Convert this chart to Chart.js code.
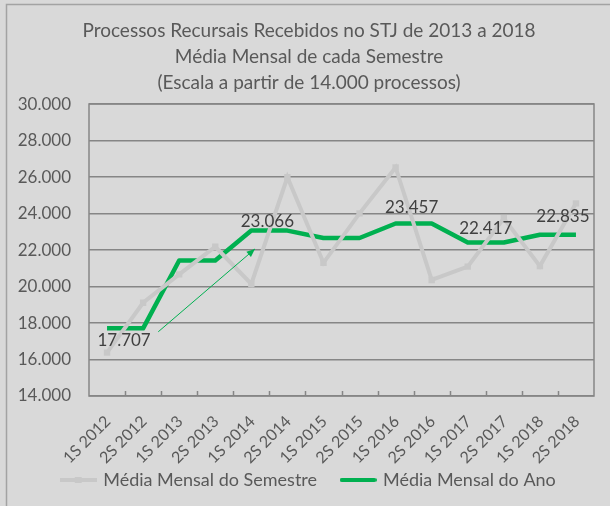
<!DOCTYPE html>
<html>
<head>
<meta charset="utf-8">
<script src="https://cdn.jsdelivr.net/npm/chart.js@4"></script>
<style>
  html, body { margin: 0; padding: 0; background: #d9d9d9; }
  canvas { display: block; }
</style>
</head>
<body>
<canvas id="lineChart" width="610" height="506"></canvas>
<script>
// dados
var semestres = ['1S 2012', '2S 2012', '1S 2013', '2S 2013', '1S 2014', '2S 2014', '1S 2015',
                 '2S 2015', '1S 2016', '2S 2016', '1S 2017', '2S 2017', '1S 2018', '2S 2018'];
var mediaSemestre = [16380, 19110, 20670, 22180, 20140, 25990, 21300,
                     24010, 26530, 20360, 21090, 23740, 21120, 24560];
var mediaAno = [17707, 17707, 21424, 21424, 23066, 23066, 22660,
                22660, 23457, 23457, 22417, 22417, 22835, 22835];
// anos com rótulo (índice do 1º semestre)
var anosRotulados = [0, 4, 8, 10, 12];
var yTicks = [14000, 16000, 18000, 20000, 22000, 24000, 26000, 28000, 30000];

var fonte = 'Lato, "Noto Sans", sans-serif';
var cinza = '#c8c8c8';
var verde = '#00b050';

// deslocamento de cada rótulo em px (dx, dy)
var deslocRotulo = [[-1, 12], [-2, -9], [-2, -16], [0, -14], [5, -18]];

function fmt(v) {
    return String(Math.round(v)).replace(/\B(?=(\d{3})+(?!\d))/g, '.');
}

// marcadores da legenda
function marcador(cor, comQuadrado) {
    var cv = document.createElement('canvas');
    cv.width = 37; cv.height = 8;
    var c = cv.getContext('2d');
    c.strokeStyle = cor;
    c.lineWidth = 4;
    c.lineCap = comQuadrado ? 'butt' : 'round';
    c.beginPath();
    c.moveTo(comQuadrado ? 0 : 2, 4);
    c.lineTo(comQuadrado ? 37 : 35, 4);
    c.stroke();
    if (comQuadrado) {
        c.fillStyle = cor;
        c.fillRect(15, 1, 7, 6);
    }
    return cv;
}
var marcadores = [marcador(cinza, true), marcador(verde, false)];

var extras = {
    id: 'extras',
    beforeDraw: function(chart) {
        var c = chart.ctx;
        c.save();
        c.fillStyle = '#d9d9d9';
        c.fillRect(0, 0, chart.width, chart.height);
        c.strokeStyle = '#a3a3a3';
        c.lineWidth = 1.5;
        c.beginPath();
        c.moveTo(6.5, chart.height);
        c.lineTo(6.5, 4.5);
        c.lineTo(chart.width, 4.5);
        c.stroke();
        c.restore();
    },
    beforeDatasetsDraw: function(chart) {
        var c = chart.ctx, a = chart.chartArea, x = chart.scales.x;
        c.save();
        c.strokeStyle = '#868686';
        c.lineWidth = 1.5;
        c.strokeRect(Math.round(a.left), Math.round(a.top),
                     Math.round(a.right - a.left), Math.round(a.bottom - a.top));
        c.beginPath();
        for (var i = 0; i < semestres.length - 1; i++) {
            var px = Math.round(x.getPixelForValue(i + 0.5)) + 0.5;
            c.moveTo(px, a.bottom);
            c.lineTo(px, a.bottom - 5);
        }
        c.stroke();
        c.restore();
    },
    afterDatasetsDraw: function(chart) {
        var c = chart.ctx, x = chart.scales.x, y = chart.scales.y;
        c.save();
        // seta verde
        var x0 = x.getPixelForValue(1.42), y0 = y.getPixelForValue(17520);
        var x1 = x.getPixelForValue(4.1), y1 = y.getPixelForValue(22060);
        c.strokeStyle = verde;
        c.fillStyle = verde;
        c.lineWidth = 1;
        c.beginPath();
        c.moveTo(x0, y0);
        c.lineTo(x1, y1);
        c.stroke();
        var ang = Math.atan2(y1 - y0, x1 - x0);
        c.beginPath();
        c.moveTo(x1, y1);
        c.lineTo(x1 - 9 * Math.cos(ang - 0.4), y1 - 9 * Math.sin(ang - 0.4));
        c.lineTo(x1 - 9 * Math.cos(ang + 0.4), y1 - 9 * Math.sin(ang + 0.4));
        c.closePath();
        c.fill();
        // rótulos
        c.font = '17px ' + fonte;
        c.fillStyle = '#404040';
        c.textAlign = 'center';
        c.textBaseline = 'middle';
        anosRotulados.forEach(function(i, k) {
            var px = (x.getPixelForValue(i) + x.getPixelForValue(i + 1)) / 2;
            var py = y.getPixelForValue(mediaAno[i]);
            c.fillText(fmt(mediaAno[i]), px + deslocRotulo[k][0], py + deslocRotulo[k][1]);
        });
        c.restore();
    }
};

var ctx = document.getElementById('lineChart').getContext('2d');

var lineChart = new Chart(ctx, {
    type: 'line',
    data: {
        labels: semestres,
        datasets: [{
            label: 'Média Mensal do Semestre',
            data: mediaSemestre,
            borderColor: cinza,
            backgroundColor: cinza,
            borderWidth: 4,
            pointStyle: 'rect',
            pointRadius: 4.5,
            pointBackgroundColor: cinza,
            pointBorderWidth: 0,
            tension: 0,
            fill: false
        }, {
            label: 'Média Mensal do Ano',
            data: mediaAno,
            borderColor: verde,
            backgroundColor: verde,
            borderWidth: 4.5,
            borderJoinStyle: 'round',
            pointRadius: 0,
            tension: 0,
            fill: false
        }]
    },
    options: {
        responsive: false,
        animation: false,
        layout: { padding: { left: 24, right: 16, top: 18, bottom: 7 } },
        plugins: {
            title: {
                display: true,
                text: ['Processos Recursais Recebidos no STJ de 2013 a 2018',
                       'Média Mensal de cada Semestre',
                       '(Escala a partir de 14.000 processos)'],
                color: '#595959',
                font: { family: fonte, size: 19, weight: 'normal', lineHeight: 1.37 },
                padding: { top: 0, bottom: 8 }
            },
            legend: {
                position: 'bottom',
                align: 'center',
                labels: {
                    usePointStyle: true,
                    pointStyleWidth: 32,
                    padding: 25,
                    color: '#595959',
                    font: { family: fonte, size: 18 },
                    generateLabels: function(chart) {
                        var itens = Chart.defaults.plugins.legend.labels.generateLabels(chart);
                        itens.forEach(function(it, k) { it.pointStyle = marcadores[k]; });
                        return itens;
                    }
                }
            },
            tooltip: { enabled: false }
        },
        scales: {
            x: {
                offset: true,
                grid: { display: false, drawTicks: false },
                border: { display: false },
                ticks: {
                    minRotation: 45,
                    maxRotation: 45,
                    padding: 16,
                    labelOffset: 1,
                    color: '#595959',
                    font: { family: fonte, size: 16 }
                },
                afterFit: function(scale) {
                    scale.height = 50;
                    // deixa os rótulos girados passarem do limite do eixo
                    scale._computeLabelArea = function() {};
                }
            },
            y: {
                min: 14000,
                max: 30000,
                afterBuildTicks: function(scale) {
                    scale.ticks = yTicks.map(function(v) { return { value: v }; });
                },
                grid: { color: '#868686', lineWidth: 1.5, drawTicks: false },
                border: { display: false },
                ticks: {
                    padding: 18,
                    color: '#595959',
                    font: { family: fonte, size: 17 },
                    callback: function(v) { return fmt(v); }
                },
                afterFit: function(scale) {
                    scale.width = 65;
                    scale._computeLabelArea = function() {};
                }
            }
        }
    },
    plugins: [extras]
});
</script>
</body>
</html>
